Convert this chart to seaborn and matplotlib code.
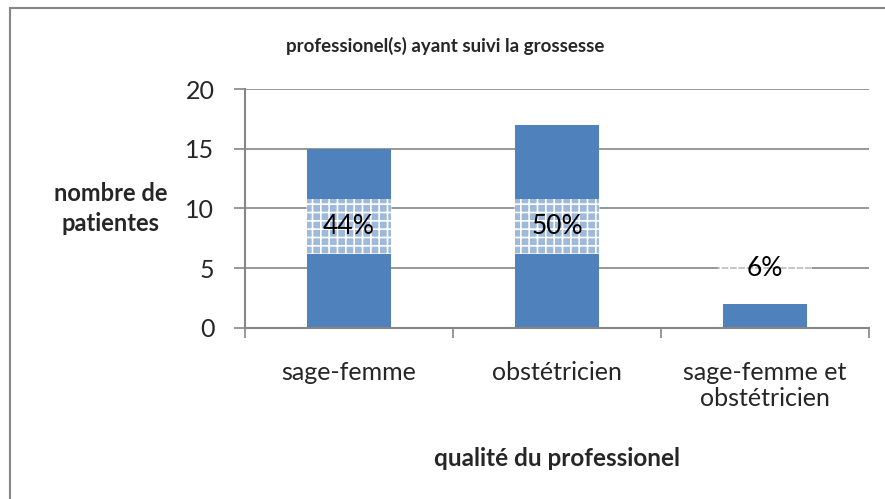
import matplotlib
matplotlib.use('Agg')
import matplotlib.pyplot as plt
import seaborn as sns
import pandas as pd
from matplotlib.patches import Rectangle

# data
categories = ['sage-femme', 'obstétricien', 'sage-femme et\nobstétricien']
patients = [15, 17, 2]
pct_labels = ['44%', '50%', '6%']
label_y = [8.5, 8.5, 5.0]

bar_color = '#4F81BD'
grey = '#868686'

sns.set_style('white')
plt.rcParams['font.family'] = ['Lato', 'DejaVu Sans']
plt.rcParams['hatch.linewidth'] = 1.2

df = pd.DataFrame({'qualite': categories, 'n': patients})

fig = plt.figure(figsize=(8.85, 4.99), dpi=100)
ax = fig.add_axes([0.2768, 0.3433, 0.7051, 0.4783])

sns.barplot(data=df, x='qualite', y='n', color=bar_color, saturation=1,
            width=0.4, ax=ax, zorder=2, linewidth=0)

ax.set_ylim(0, 20)
ax.set_xlim(-0.5, 2.5)
ax.set_yticks([0, 5, 10, 15, 20])
ax.yaxis.grid(True, color=grey, linewidth=1.2, zorder=0)
ax.set_axisbelow(True)

# category separators as major ticks, names on minor ticks
ax.set_xticks([-0.5, 0.5, 1.5, 2.5])
ax.set_xticklabels([])
ax.set_xticks([0, 1, 2], minor=True)
ax.set_xticklabels(categories, minor=True, fontsize=18, linespacing=1.15)
ax.tick_params(axis='x', which='major', length=7, width=1.2, color=grey, direction='out', bottom=True)
ax.tick_params(axis='x', which='minor', length=0, pad=24)
ax.tick_params(axis='y', length=8, width=1.2, color=grey, direction='out', left=True,
               labelsize=18, pad=14)

for s in ['top', 'right']:
    ax.spines[s].set_visible(False)
for s in ['left', 'bottom']:
    ax.spines[s].set_color(grey)
    ax.spines[s].set_linewidth(1.5)

# patterned label boxes
box_w = [0.41, 0.41, 0.45]
for i, (lab, yv) in enumerate(zip(pct_labels, label_y)):
    rect = Rectangle((i - box_w[i] / 2, yv - 2.3), box_w[i], 4.6,
                     facecolor=(1, 1, 1, 0.45), edgecolor='white', hatch='++',
                     linewidth=0, zorder=3)
    ax.add_patch(rect)
    ax.text(i, yv, lab, ha='center', va='center', fontsize=19, color='black', zorder=4)

ax.set_xlabel('qualité du professionel', fontsize=17.5, fontweight='bold', labelpad=27)
ax.set_ylabel('')
fig.text(0.125, 0.582, 'nombre de\npatientes', ha='center', va='center',
         fontsize=17, fontweight='bold', linespacing=1.35)

fig.text(0.503, 0.908, 'professionel(s) ayant suivi la grossesse', ha='center', va='center',
         fontsize=13.5, fontweight='bold')

# outer chart frame (left and top edges visible)
fig.patches.append(Rectangle((10 / 885, -0.05), 1.0, 1 - 8 / 499 + 0.05,
                             transform=fig.transFigure, fill=False,
                             edgecolor=grey, linewidth=1.5))

fig.savefig('out.png', dpi=100)
